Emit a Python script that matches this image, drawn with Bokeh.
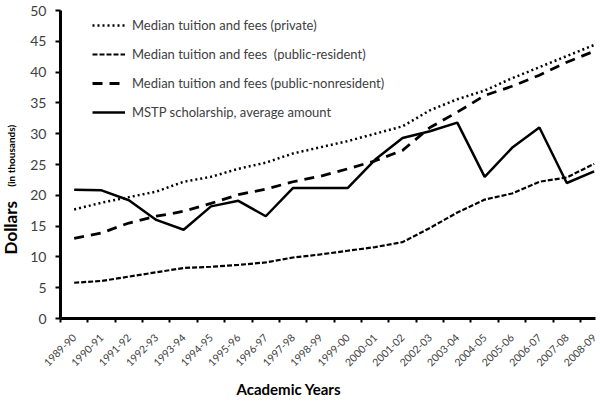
import math
from bokeh.plotting import figure
from bokeh.layouts import row
from bokeh.models import (ColumnDataSource, FixedTicker, Legend, LegendItem, Label, Range1d, Title)
from bokeh.embed import file_html
from bokeh.resources import INLINE

years = ["1989-90", "1990-91", "1991-92", "1992-93", "1993-94", "1994-95", "1995-96",
         "1996-97", "1997-98", "1998-99", "1999-00", "2000-01", "2001-02", "2002-03",
         "2003-04", "2004-05", "2005-06", "2006-07", "2007-08", "2008-09"]
private = [17.7, 18.8, 19.7, 20.6, 22.2, 23.0, 24.3, 25.3, 26.8, 27.8,
           28.8, 30.0, 31.2, 33.8, 35.6, 37.0, 39.0, 40.8, 42.6, 44.4]
public_resident = [5.8, 6.1, 6.8, 7.5, 8.2, 8.4, 8.7, 9.1, 9.9, 10.4,
                   11.0, 11.6, 12.4, 14.7, 17.2, 19.3, 20.3, 22.2, 22.9, 25.1]
public_nonresident = [13.0, 13.9, 15.5, 16.6, 17.4, 18.7, 20.1, 21.0, 22.2, 23.1,
                      24.3, 25.6, 27.3, 31.0, 33.5, 36.2, 37.7, 39.5, 41.6, 43.4]
mstp = [20.9, 20.8, 19.2, 16.0, 14.4, 18.2, 19.1, 16.6, 21.2, 21.2,
        21.2, 25.8, 29.3, 30.4, 31.8, 23.0, 27.7, 31.0, 22.0, 23.9]
y_ticks = list(range(0, 51, 5))

xpos = [i + 0.5 for i in range(len(years))]
src = ColumnDataSource(dict(x=xpos, private=private, pres=public_resident,
                            pnon=public_nonresident, mstp=mstp))

FONT = "Lato"
GRAY = "#404040"
H = 405
LW = 25  # width of the strip that carries the y-axis title

# narrow strip holding the two-part y-axis title (no axes; same y scale as the chart)
t = figure(width=LW, height=H, output_backend="svg", toolbar_location=None,
           x_axis_type=None, y_axis_type=None,
           x_range=Range1d(0, LW), y_range=Range1d(0, 50),
           min_border_left=0, min_border_right=0, min_border_top=10, min_border_bottom=87)
t.grid.visible = False
t.outline_line_color = None
t.add_layout(Label(x=10, y=10.4, text="Dollars",
                   angle=math.pi / 2, text_align="left", text_baseline="alphabetic",
                   text_font=FONT, text_font_style="bold", text_font_size="17px",
                   text_color="black"))
t.add_layout(Label(x=10, y=21.4, text="(in thousands)",
                   angle=math.pi / 2, text_align="left", text_baseline="alphabetic",
                   text_font=FONT, text_font_style="bold", text_font_size="10px",
                   text_color="black"))

p = figure(width=600 - LW, height=H, output_backend="svg", toolbar_location=None,
           x_range=Range1d(0, len(years) - 0.45), y_range=Range1d(0, 50),
           min_border_left=60 - LW, min_border_right=5, min_border_top=10, min_border_bottom=87)
p.outline_line_color = None
p.grid.visible = False
p.background_fill_color = "white"

r1 = p.line("x", "private", source=src, line_color="black", line_width=2.5, line_dash="2 3")
r2 = p.line("x", "pres", source=src, line_color="black", line_width=2.2, line_dash="5 2")
r3 = p.line("x", "pnon", source=src, line_color="black", line_width=2.8, line_dash="10 7")
r4 = p.line("x", "mstp", source=src, line_color="black", line_width=2.5)

# x axis: tick marks at category boundaries, labels at category centres
xa = p.xaxis[0]
xa.ticker = FixedTicker(ticks=xpos, minor_ticks=list(range(len(years))))
xa.major_label_overrides = {x: y for x, y in zip(xpos, years)}
xa.major_tick_out = 0
xa.major_tick_in = 0
xa.minor_tick_out = 4
xa.minor_tick_in = 0
xa.minor_tick_line_width = 2
xa.minor_tick_line_color = "black"
xa.axis_line_width = 3
xa.axis_line_color = "black"
xa.major_label_orientation = math.pi / 4
xa.major_label_text_font = FONT
xa.major_label_text_font_size = "10.5px"
xa.major_label_text_color = GRAY
xa.major_label_standoff = 13

# x-axis title sits left of the frame centre, as in the reference
p.add_layout(Title(text="Academic Years", align="left", offset=176, standoff=10,
                   text_font=FONT, text_font_style="bold", text_font_size="15px",
                   text_color="black"), "below")

ya = p.yaxis[0]
ya.ticker = FixedTicker(ticks=y_ticks, minor_ticks=[])
ya.major_tick_out = 5
ya.major_tick_in = 0
ya.major_tick_line_width = 2
ya.major_tick_line_color = "black"
ya.axis_line_width = 3
ya.axis_line_color = "black"
ya.major_label_text_font = FONT
ya.major_label_text_font_size = "14px"
ya.major_label_text_color = GRAY
ya.major_label_standoff = 9

legend = Legend(items=[
    LegendItem(label="Median tuition and fees (private)", renderers=[r1]),
    LegendItem(label="Median tuition and fees  (public-resident)", renderers=[r2]),
    LegendItem(label="Median tuition and fees (public-nonresident)", renderers=[r3]),
    LegendItem(label="MSTP scholarship, average amount", renderers=[r4]),
], location=(32, 196), orientation="vertical")
legend.border_line_color = None
legend.background_fill_alpha = 0
legend.padding = 0
legend.margin = 0
legend.glyph_width = 33
legend.glyph_height = 20
legend.label_height = 20
legend.spacing = 9
legend.label_standoff = 7
legend.label_text_font = FONT
legend.label_text_font_size = "13px"
legend.label_text_color = GRAY
p.add_layout(legend)

layout = row(t, p, spacing=0)
open("out.html", "w").write(file_html(layout, INLINE))
